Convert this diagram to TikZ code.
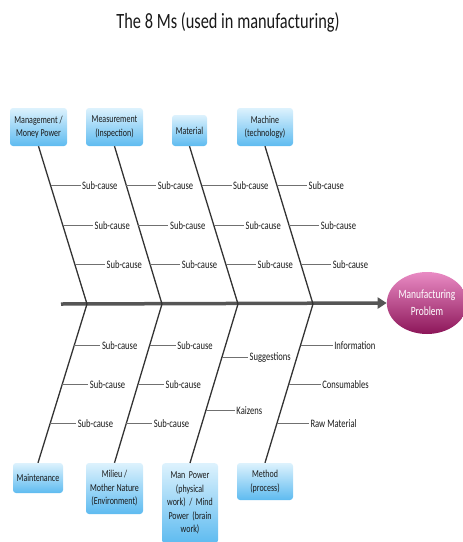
\documentclass[tikz,border=0pt]{standalone}
\usepackage{fontspec}
\setmainfont{Carlito}[FakeStretch=0.75]
\usetikzlibrary{calc,arrows.meta,shapes.geometric}
\definecolor{boxtop}{HTML}{DDF2FD}
\definecolor{boxbot}{HTML}{5EBBF0}
\definecolor{ptop}{HTML}{E98BC4}
\definecolor{pbot}{HTML}{8C1659}
\definecolor{bonec}{HTML}{333333}
\definecolor{spinec}{HTML}{555555}
\definecolor{branchc}{HTML}{707070}
\tikzset{
  cat/.style={rounded corners=3pt, top color=boxtop, bottom color=boxbot, draw=none,
    align=center, font=\fontsize{10.6}{13.5}\selectfont, text=black!90, inner sep=1pt},
  bone/.style={draw=bonec, line width=1.3pt},
  branch/.style={draw=branchc, line width=0.8pt},
  lbl/.style={font=\fontsize{11.4}{13}\selectfont, anchor=west, inner sep=1.5pt, text=black!90},
}
\begin{document}
\begin{tikzpicture}[x=1pt,y=-1pt]
\useasboundingbox (0,0) rectangle (463,542);
\node[font=\fontsize{21.8}{25}\selectfont, text=black!90] (title) at (228,22) {The 8 Ms (used in manufacturing)};
% category boxes
\node[cat, minimum width=57pt, minimum height=38pt] (mgmt) at (38.5,127) {Management /\\Money Power};
\node[cat, minimum width=57pt, minimum height=38pt] (meas) at (114.5,127) {Measurement\\(Inspection)};
\node[cat, minimum width=35pt, minimum height=31pt] (mat) at (189.5,130.5) {Material};
\node[cat, minimum width=56pt, minimum height=38pt] (mach) at (265,127) {Machine\\(technology)};
\node[cat, minimum width=50pt, minimum height=30pt] (maint) at (38,478) {Maintenance};
\node[cat, minimum width=57pt, minimum height=51pt] (mil) at (114.5,488.5) {Milieu /\\Mother Nature\\(Environment)};
\node[cat, minimum width=56pt, minimum height=80pt, text width=50pt, anchor=north] (man) at (190,463) {Man Power\\(physical\\work) / Mind\\Power (brain\\work)};
\node[cat, minimum width=56pt, minimum height=37pt] (meth) at (265,481.5) {Method\\(process)};
% problem
\node[ellipse, minimum width=72pt, minimum height=62pt, inner sep=0pt, top color=ptop, bottom color=pbot,
  align=center, text=white, font=\fontsize{12.6}{17}\selectfont] (prob) at (427,303) {Manufacturing\\Problem};
% spine
\coordinate (tail) at (61,304);
\coordinate (j1) at (87,304);
\coordinate (j2) at (162,304);
\coordinate (j3) at (238,304);
\coordinate (j4) at (313,304);
\draw[draw=spinec, line width=3.5pt, -{Triangle[length=9pt,width=11pt]}] (tail) -- (prob.west);
% bones
\draw[bone] (mgmt.south) -- (j1);
\draw[bone] (meas.south) -- (j2);
\draw[bone] (mat.south) -- (j3);
\draw[bone] (mach.south) -- (j4);
\draw[bone] (j1) -- (maint.north);
\draw[bone] (j2) -- (mil.north);
\draw[bone] (j3) -- (man.north);
\draw[bone] (j4) -- (meth.north);
% top sub-causes
\foreach \b/\j/\n in {mgmt/j1/a, meas/j2/b, mat/j3/c, mach/j4/d}{
  \foreach \t/\k in {0.248/1, 0.503/2, 0.752/3}{
    \coordinate (\n\k) at ($(\b.south)!\t!(\j)$);
    \node[lbl] (\n\k t) at ([xshift=30pt]\n\k) {Sub-cause};
    \draw[branch] (\n\k) -- (\n\k t.west);
  }
}
% bottom sub-causes
\foreach \b/\j/\n in {maint/j1/e, mil/j2/f}{
  \foreach \t/\k in {0.259/1, 0.506/2, 0.753/3}{
    \coordinate (\n\k) at ($(\j)!\t!(\b.north)$);
    \node[lbl] (\n\k t) at ([xshift=26pt]\n\k) {Sub-cause};
    \draw[branch] (\n\k) -- (\n\k t.west);
  }
}
\coordinate (g1) at ($(j3)!0.335!(man.north)$);
\node[lbl] (g1t) at ([xshift=26pt]g1) {Suggestions};
\draw[branch] (g1) -- (g1t.west);
\coordinate (g2) at ($(j3)!0.671!(man.north)$);
\node[lbl] (g2t) at ([xshift=29pt]g2) {Kaizens};
\draw[branch] (g2) -- (g2t.west);
\foreach \t/\k/\s in {0.259/1/Information, 0.506/2/Consumables, 0.753/3/Raw Material}{
  \coordinate (h\k) at ($(j4)!\t!(meth.north)$);
  \node[lbl] (h\k t) at ([xshift=32pt]h\k) {\s};
  \draw[branch] (h\k) -- (h\k t.west);
}
\end{tikzpicture}
\end{document}
